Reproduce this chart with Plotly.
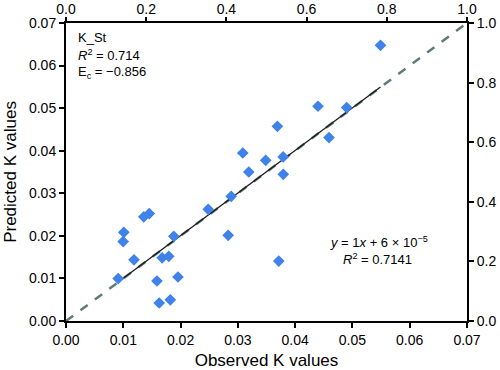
import plotly.graph_objects as go

observed = [0.00911, 0.00998, 0.01009, 0.01187, 0.01358, 0.01454, 0.01588, 0.01627,
            0.01679, 0.01794, 0.01821, 0.01882, 0.01955, 0.02482, 0.02831, 0.02884,
            0.03086, 0.03191, 0.03486, 0.03690, 0.03714, 0.03791, 0.03793, 0.04399,
            0.04591, 0.04900, 0.05490]
predicted = [0.00996, 0.01865, 0.02084, 0.01438, 0.02448, 0.02523, 0.00940, 0.00423,
             0.01485, 0.01520, 0.00498, 0.01990, 0.01034, 0.02624, 0.02013, 0.02929,
             0.03946, 0.03500, 0.03775, 0.04574, 0.01407, 0.03853, 0.03446, 0.05044,
             0.04308, 0.05013, 0.06476]

fit_slope = 1.0
fit_intercept = 6e-5
primary_ticks = [0.00, 0.01, 0.02, 0.03, 0.04, 0.05, 0.06, 0.07]
secondary_ticks = [0.0, 0.2, 0.4, 0.6, 0.8, 1.0]

FONT = "Liberation Sans, Arial, sans-serif"
MARKER_COLOR = "#3f82ea"

fig = go.Figure()

# 1:1 dashed line
fig.add_trace(go.Scatter(
    x=[primary_ticks[0], primary_ticks[-1]], y=[primary_ticks[0], primary_ticks[-1]],
    mode="lines", line=dict(color="#5f7a78", width=2.5, dash="dash"),
    hoverinfo="skip", showlegend=False))

# fit line over data range
xmin, xmax = min(observed), max(observed)
fig.add_trace(go.Scatter(
    x=[xmin, xmax], y=[fit_slope * xmin + fit_intercept, fit_slope * xmax + fit_intercept],
    mode="lines", line=dict(color="#1a1a1a", width=1.3),
    hoverinfo="skip", showlegend=False))

fig.add_trace(go.Scatter(
    x=observed, y=predicted, mode="markers",
    marker=dict(symbol="diamond", size=9, color=MARKER_COLOR, line=dict(width=0)),
    showlegend=False))

# dummy trace for secondary axes
fig.add_trace(go.Scatter(x=[0, 1], y=[0, 1], xaxis="x2", yaxis="y2", mode="markers",
                         marker=dict(opacity=0), hoverinfo="skip", showlegend=False))

axis_common = dict(showline=True, linecolor="black", linewidth=2, ticks="outside",
                   tickwidth=1.5, tickcolor="black", showgrid=False,
                   zeroline=False, automargin=False,
                   tickfont=dict(family=FONT, size=14, color="black"))

fig.update_layout(
    width=500, height=370,
    margin=dict(l=66, r=33, t=23, b=49),
    paper_bgcolor="white", plot_bgcolor="white",
    font=dict(family=FONT, size=13, color="black"),
    xaxis=dict(range=[0, 0.07], tickvals=primary_ticks, tickformat=".2f", ticklen=5,
               title=dict(text="Observed K values", font=dict(size=17), standoff=8),
               **axis_common),
    yaxis=dict(range=[0, 0.07], tickvals=primary_ticks, tickformat=".2f", ticklen=5,
               title=dict(text="Predicted K values", font=dict(size=17), standoff=8),
               **axis_common),
    xaxis2=dict(range=[0, 1], tickvals=secondary_ticks, tickformat=".1f", overlaying="x",
                side="top", ticklen=4, ticklabelstandoff=-3, **axis_common),
    yaxis2=dict(range=[0, 1], tickvals=secondary_ticks, tickformat=".1f", overlaying="y",
                side="right", ticklen=5, **axis_common),
)

fig.add_annotation(x=0.0018, y=0.0667, xref="x", yref="y", xanchor="left", yanchor="middle",
                   text="K_St", showarrow=False, font=dict(size=13))
fig.add_annotation(x=0.0018, y=0.0624, xref="x", yref="y", xanchor="left", yanchor="middle",
                   text="<i>R</i><sup>2</sup> = 0.714", showarrow=False, font=dict(size=13))
fig.add_annotation(x=0.0018, y=0.0583, xref="x", yref="y", xanchor="left", yanchor="middle",
                   text="E<sub>c</sub> = \u22120.856", showarrow=False, font=dict(size=13))
fig.add_annotation(x=0.0546, y=0.01856, xref="x", yref="y", xanchor="center", yanchor="middle",
                   text="<i>y</i> = 1<i>x</i> + 6 \u00d7 10<sup>\u22125</sup>", showarrow=False,
                   font=dict(size=13))
fig.add_annotation(x=0.0544, y=0.01466, xref="x", yref="y", xanchor="center", yanchor="middle",
                   text="<i>R</i><sup>2</sup> = 0.7141", showarrow=False, font=dict(size=13))

fig.write_html("out.html", config={"displayModeBar": False},
               post_script="document.body.style.margin='0';document.body.style.overflow='hidden';")
